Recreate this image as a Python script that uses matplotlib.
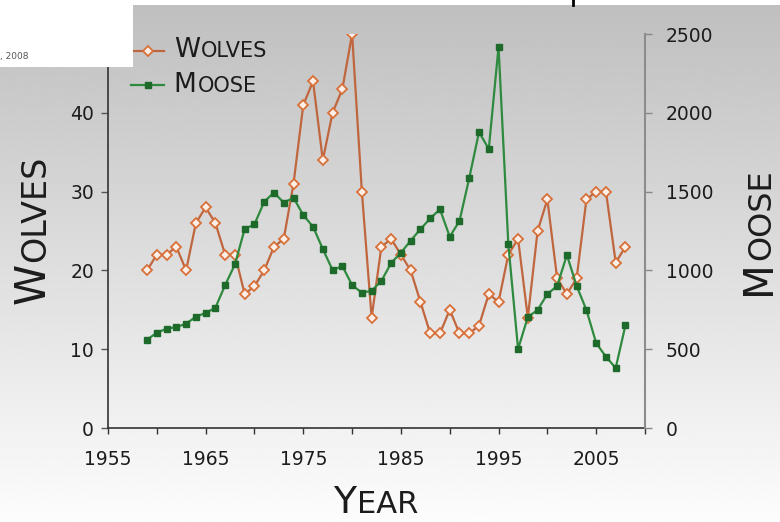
import numpy as np
import matplotlib.pyplot as plt
from matplotlib.lines import Line2D
from matplotlib.patches import Rectangle
from matplotlib.transforms import IdentityTransform

years = list(range(1959, 2009))
wolves = [20, 22, 22, 23, 20, 26, 28, 26, 22, 22,
          17, 18, 20, 23, 24, 31, 41, 44, 34, 40,
          43, 50, 30, 14, 23, 24, 22, 20, 16, 12,
          12, 15, 12, 12, 13, 17, 16, 22, 24, 14,
          25, 29, 19, 17, 19, 29, 30, 30, 21, 23]
moose = [560, 605, 630, 640, 662, 706, 730, 763, 907, 1038,
         1263, 1292, 1436, 1494, 1430, 1461, 1351, 1277, 1136, 1002,
         1028, 907, 858, 871, 933, 1047, 1112, 1189, 1261, 1330,
         1388, 1214, 1313, 1586, 1878, 1770, 2419, 1167, 501, 704,
         749, 850, 901, 1098, 901, 749, 539, 452, 381, 653]
x_ticks = [1955, 1965, 1975, 1985, 1995, 2005]
wolf_ticks = [0, 10, 20, 30, 40, 50]
moose_ticks = [0, 500, 1000, 1500, 2000, 2500]

W, H = 780, 522
wolf_col = '#c0663f'
moose_col = '#2e8a3e'
txt_col = '#1c1c1c'

fig = plt.figure(figsize=(W / 100, H / 100), dpi=100)
renderer = fig.canvas.get_renderer()

# grey-to-white background
bg = fig.add_axes([0, 0, 1, 1], zorder=-5)
grad = np.linspace(0.75, 0.99, 256).reshape(-1, 1)
bg.imshow(grad, extent=[0, 1, 0, 1 - 5 / H], aspect='auto', cmap='gray',
          vmin=0, vmax=1, origin='upper')
bg.set_xlim(0, 1)
bg.set_ylim(0, 1)
bg.axis('off')

ax = fig.add_axes([108 / W, 94 / H, (645 - 108) / W, (488 - 94) / H])
ax.set_facecolor('none')
ax2 = ax.twinx()

ax.plot(years, wolves, color=wolf_col, lw=1.6, marker='D', ms=5,
        mfc='#fbeee6', mec='#d8703a', mew=1.3, zorder=3)
ax2.plot(years, moose, color=moose_col, lw=1.6, marker='s', ms=4,
         mfc='#1d6a2b', mec='#1d6a2b', zorder=3)

ax.set_xlim(1955, 2010)
ax.set_ylim(0, 50)
ax2.set_ylim(0, 2500)

ax.set_xticks(x_ticks)
ax.set_xticks([1960, 1970, 1980, 1990, 2000, 2010], minor=True)
ax.set_yticks(wolf_ticks)
ax2.set_yticks(moose_ticks)

ax.tick_params(axis='x', which='both', direction='out', length=4, width=1,
               color='#333333', labelsize=13.5, pad=12, labelcolor=txt_col)
ax.tick_params(axis='y', direction='out', length=5, width=1, color='#555555',
               labelsize=13.5, pad=5, labelcolor=txt_col)
ax2.tick_params(axis='y', direction='out', length=5, width=1, color='#888888',
                labelsize=13.5, pad=10, labelcolor=txt_col)

for s in ['top', 'right']:
    ax.spines[s].set_visible(False)
for s in ['top', 'left', 'bottom']:
    ax2.spines[s].set_visible(False)
ax.spines['left'].set_color('#333333')
ax.spines['bottom'].set_color('#333333')
ax.spines['left'].set_linewidth(1.2)
ax.spines['bottom'].set_linewidth(1.2)
ax2.spines['right'].set_color('#8c8c8c')
ax2.spines['right'].set_linewidth(1.5)


def caps(word, x, y, big, small, rot=0, center=True):
    # first letter larger, rest smaller: fake small caps, pixel coords
    kw = dict(transform=IdentityTransform(), rotation=rot, rotation_mode='anchor',
              ha='left', va='baseline', color=txt_col, zorder=20)
    a = fig.text(0, 0, word[0], fontsize=big, **kw)
    b = fig.text(0, 0, word[1:], fontsize=small, **kw)
    ea = a.get_window_extent(renderer)
    eb = b.get_window_extent(renderer)
    wa, wb = (ea.width, eb.width) if rot == 0 else (ea.height, eb.height)
    wa += 1
    off = -(wa + wb) / 2 if center else 0
    if rot == 0:
        a.set_position((x + off, y))
        b.set_position((x + off + wa, y))
    else:
        a.set_position((x, y + off))
        b.set_position((x, y + off + wa))


# axis titles
caps('WOLVES', 45, H - 230, 30, 24, rot=90)
caps('MOOSE', 770, H - 232, 29, 23, rot=90)
caps('YEAR', 376, H - 513, 27, 22)

# legend with handles from the library, labels redrawn as small caps
handles = [Line2D([], [], color=wolf_col, lw=1.6, marker='D', ms=5,
                  mfc='#fbeee6', mec='#d8703a', mew=1.3),
           Line2D([], [], color=moose_col, lw=1.6, marker='s', ms=4,
                  mfc='#1d6a2b', mec='#1d6a2b')]
leg = ax.legend(handles, ['WOLVES', 'MOOSE'], loc='upper left',
                bbox_to_anchor=(131 / W, 1 - 42 / H), bbox_transform=fig.transFigure,
                frameon=False, fontsize=15, handlelength=1.6, handletextpad=0.45,
                labelspacing=0.7, borderpad=0, borderaxespad=0)
fig.canvas.draw()
for t, word in zip(leg.get_texts(), ['WOLVES', 'MOOSE']):
    bb = t.get_window_extent(renderer)
    t.set_visible(False)
    caps(word, bb.x0, bb.y0 + 0.23 * 15 * 100 / 72, 19, 15, center=False)

# white strip at top and cropped source box in the corner
fig.add_artist(Rectangle((0, 1 - 5 / H), 1, 5 / H, transform=fig.transFigure,
                         facecolor='white', edgecolor='none', zorder=10))
fig.add_artist(Rectangle((0, 1 - 67 / H), 133 / W, 67 / H, transform=fig.transFigure,
                         facecolor='white', edgecolor='none', zorder=10))
fig.text(0, 1 - 56 / H, ', 2008', fontsize=6.5, color='#555555', va='center', zorder=11)
fig.add_artist(Line2D([573 / W, 573 / W], [1, 1 - 5 / H], transform=fig.transFigure,
                      color='black', lw=2, zorder=11))

fig.savefig('out.png', dpi=100)
